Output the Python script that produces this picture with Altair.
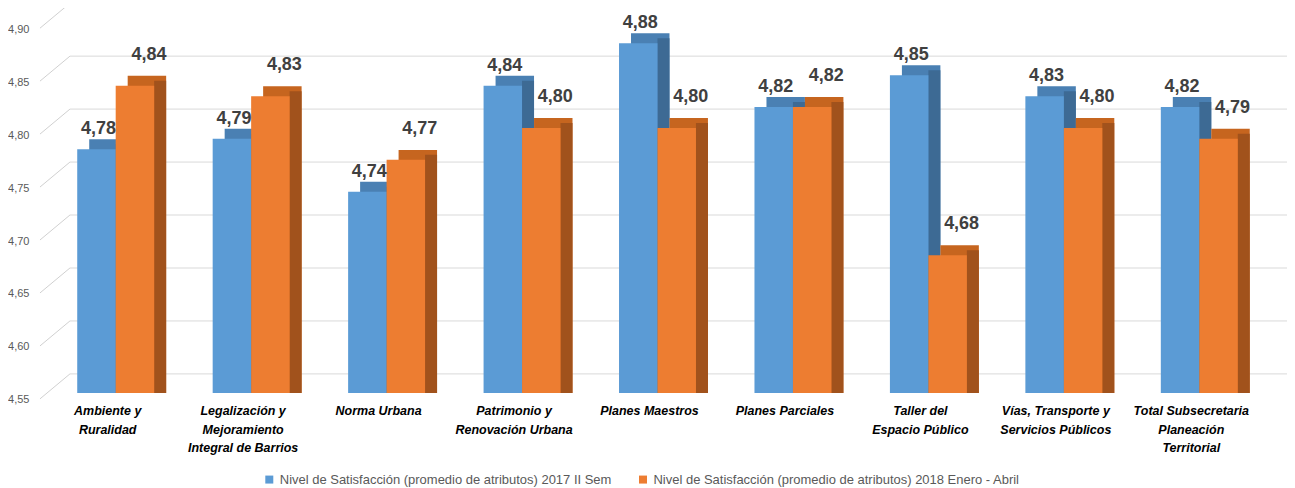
import altair as alt
import pandas as pd

categories = [
    "Ambiente y\nRuralidad",
    "Legalización y\nMejoramiento\nIntegral de Barrios",
    "Norma Urbana",
    "Patrimonio y\nRenovación Urbana",
    "Planes Maestros",
    "Planes Parciales",
    "Taller del\nEspacio Público",
    "Vías, Transporte y\nServicios Públicos",
    "Total Subsecretaria\nPlaneación\nTerritorial",
]
series_names = [
    "Nivel de Satisfacción (promedio de atributos) 2017 II Sem",
    "Nivel de Satisfacción (promedio de atributos) 2018  Enero - Abril",
]
values_2017 = [4.78, 4.79, 4.74, 4.84, 4.88, 4.82, 4.85, 4.83, 4.82]
values_2018 = [4.84, 4.83, 4.77, 4.80, 4.80, 4.82, 4.68, 4.80, 4.79]
y_ticks = [4.55, 4.60, 4.65, 4.70, 4.75, 4.80, 4.85, 4.90]

front_colors = ["#5B9BD5", "#ED7D31"]
top_colors = ["#4A80B3", "#C6651F"]
side_colors = ["#3D6A94", "#A1521C"]

rows = []
for cat, v in zip(categories, values_2017):
    rows.append({"cat": cat, "series": series_names[0], "value": v})
for cat, v in zip(categories, values_2018):
    rows.append({"cat": cat, "series": series_names[1], "value": v})
df = pd.DataFrame(rows)
df["label"] = df["value"].map(lambda v: f"{v:.2f}".replace(".", ","))
ticks_df = pd.DataFrame({"t": y_ticks})

W = 1220
H = 371
BW = 38.5
DX = 12
DY = 10

x_enc = alt.X("cat:N", sort=categories,
              scale=alt.Scale(paddingInner=0, paddingOuter=0),
              axis=alt.Axis(title=None, labelAngle=0, domain=False, ticks=False,
                            labelExpr="split(datum.label, '\\n')",
                            labelFont="Liberation Sans", labelFontSize=12.5,
                            labelFontWeight="bold", labelFontStyle="italic",
                            labelColor="#000000", labelLineHeight=18.5,
                            labelPadding=12, labelOffset=-8, labelLimit=200))
y_scale = alt.Scale(domain=[4.55, 4.90], zero=False, nice=False)
y_axis = alt.Axis(title=None, values=y_ticks, grid=False, domain=False, ticks=False,
                  labelExpr="replace(format(datum.value, '.2f'), '.', ',')",
                  labelFont="Liberation Sans", labelFontSize=11,
                  labelColor="#595959", labelPadding=19, labelOffset=7)


def yv(field="value:Q"):
    return alt.Y(field, scale=y_scale, axis=y_axis, title=None)


base = alt.Chart(df)

# gridlines (back wall) and slanted connectors
grid = alt.Chart(ticks_df).mark_rule(color="#D9D9D9", strokeWidth=1, yOffset=-19).encode(
    x=alt.value(22), x2=alt.value(1242),
    y=yv("t:Q"),
)
slant = alt.Chart(ticks_df).mark_rule(color="#D0D0D0", strokeWidth=1, yOffset=6, y2Offset=-19).encode(
    x=alt.value(-8), x2=alt.value(22),
    y=yv("t:Q"),
    y2=alt.Y2("t:Q"),
)

layers = [grid, slant]
centers = [-BW / 2, BW / 2]
for i, name in enumerate(series_names):
    sub = base.transform_filter(alt.datum.series == name)
    back = sub.mark_bar(width=BW, xOffset=centers[i] + DX, yOffset=-DY,
                        color=top_colors[i]).encode(
        x=x_enc, y=yv(), y2=alt.datum(4.55))
    side = sub.mark_bar(width=DX, xOffset=centers[i] + BW / 2 + DX / 2, yOffset=-DY / 2,
                        color=side_colors[i]).encode(
        x=x_enc, y=yv(), y2=alt.datum(4.55))
    layers += [back, side]

for i, name in enumerate(series_names):
    sub = base.transform_filter(alt.datum.series == name)
    front = sub.mark_bar(width=BW, xOffset=centers[i]).encode(
        x=x_enc, y=yv(), y2=alt.datum(4.55),
        color=alt.Color("series:N",
                        scale=alt.Scale(domain=series_names, range=front_colors),
                        legend=alt.Legend(title=None, orient="none", direction="horizontal",
                                          legendX=215, legendY=451,
                                          symbolType="square", symbolSize=64,
                                          symbolStrokeWidth=0,
                                          labelFont="Liberation Sans", labelFontSize=13,
                                          labelColor="#595959", labelLimit=500,
                                          columnPadding=24)))
    layers.append(front)

text_dx = [-BW / 2 + 2, BW / 2 + 14]
text_dy = [-DY - 1, -DY - 12]
for i, name in enumerate(series_names):
    sub = base.transform_filter(alt.datum.series == name)
    txt = sub.mark_text(dx=text_dx[i], dy=text_dy[i], baseline="bottom", align="center",
                        font="Liberation Sans", fontSize=18, fontWeight="bold",
                        color="#404040").encode(
        x=x_enc, y=yv(), text="label:N")
    layers.append(txt)

chart = alt.layer(*layers).properties(
    width=W, height=H,
    autosize=alt.AutoSizeParams(type="none"),
    padding={"left": 40, "top": 14, "right": 20, "bottom": 95},
).configure(background="white").configure_view(stroke=None)

chart.save("out.html", embed_options={"renderer": "svg", "actions": False})
